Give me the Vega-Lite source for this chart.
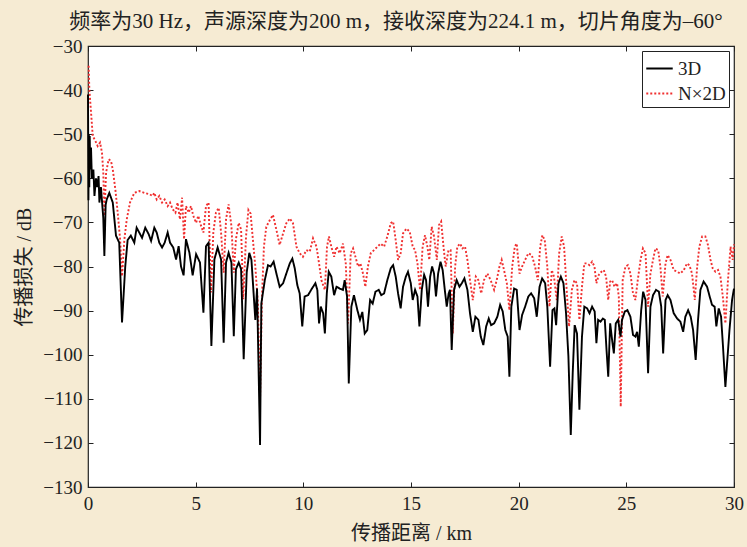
{
"$schema": "https://vega.github.io/schema/vega-lite/v6.json",
"width": 646, "height": 441,
"autosize": "none",
"padding": {"left": 88, "top": 46, "right": 13, "bottom": 60},
"background": "#f6ebd3",
"config": {"view": {"fill": "white", "stroke": "#222", "strokeWidth": 1.2}, "font": "Liberation Serif, Noto Sans CJK SC"},
"title": {"text": "频率为30 Hz，声源深度为200 m，接收深度为224.1 m，切片角度为–60°", "fontSize": 21, "fontWeight": "normal", "color": "#222", "font": "Liberation Serif, Noto Sans CJK SC", "anchor": "middle", "dx": -15, "offset": 5},
"datasets": {
"tl": [
{"s":"N×2D","d":0.03,"L":-34.5},{"s":"N×2D","d":0.062,"L":-39.8},{"s":"N×2D","d":0.14,"L":-45},{"s":"N×2D","d":0.22,"L":-50.4},{"s":"N×2D","d":0.34,"L":-51.5},{"s":"N×2D","d":0.45,"L":-52.7},{"s":"N×2D","d":0.56,"L":-51.9},{"s":"N×2D","d":0.65,"L":-54.2},{"s":"N×2D","d":0.71,"L":-58.7},{"s":"N×2D","d":0.76,"L":-68.5},{"s":"N×2D","d":0.84,"L":-58.7},{"s":"N×2D","d":0.96,"L":-55.7},{"s":"N×2D","d":1.07,"L":-56.1},{"s":"N×2D","d":1.15,"L":-58},{"s":"N×2D","d":1.27,"L":-62.5},{"s":"N×2D","d":1.38,"L":-67.8},{"s":"N×2D","d":1.49,"L":-73.8},{"s":"N×2D","d":1.58,"L":-82.2},{"s":"N×2D","d":1.69,"L":-73.8},{"s":"N×2D","d":1.8,"L":-69.3},{"s":"N×2D","d":1.95,"L":-65.5},{"s":"N×2D","d":2.15,"L":-63.3},{"s":"N×2D","d":2.38,"L":-62.9},{"s":"N×2D","d":2.62,"L":-63.3},{"s":"N×2D","d":2.85,"L":-63.6},{"s":"N×2D","d":3.0,"L":-64},{"s":"N×2D","d":3.08,"L":-63.3},{"s":"N×2D","d":3.19,"L":-64.8},{"s":"N×2D","d":3.31,"L":-64},{"s":"N×2D","d":3.44,"L":-65.5},{"s":"N×2D","d":3.56,"L":-64.8},{"s":"N×2D","d":3.7,"L":-66.3},{"s":"N×2D","d":3.81,"L":-65.5},{"s":"N×2D","d":3.93,"L":-67},{"s":"N×2D","d":4.06,"L":-67.8},{"s":"N×2D","d":4.16,"L":-65.5},{"s":"N×2D","d":4.27,"L":-69.3},{"s":"N×2D","d":4.37,"L":-64.4},{"s":"N×2D","d":4.46,"L":-73.8},{"s":"N×2D","d":4.55,"L":-66.3},{"s":"N×2D","d":4.68,"L":-67.8},{"s":"N×2D","d":4.78,"L":-66.3},{"s":"N×2D","d":4.89,"L":-68.5},{"s":"N×2D","d":5.02,"L":-70.1},{"s":"N×2D","d":5.12,"L":-68.5},{"s":"N×2D","d":5.25,"L":-70.8},{"s":"N×2D","d":5.36,"L":-72.3},{"s":"N×2D","d":5.48,"L":-66.3},{"s":"N×2D","d":5.6,"L":-65.5},{"s":"N×2D","d":5.71,"L":-85.9},{"s":"N×2D","d":5.82,"L":-72.3},{"s":"N×2D","d":5.94,"L":-67.8},{"s":"N×2D","d":6.07,"L":-66.7},{"s":"N×2D","d":6.18,"L":-72.3},{"s":"N×2D","d":6.3,"L":-81.4},{"s":"N×2D","d":6.41,"L":-69.3},{"s":"N×2D","d":6.53,"L":-65.9},{"s":"N×2D","d":6.66,"L":-70.8},{"s":"N×2D","d":6.77,"L":-81.4},{"s":"N×2D","d":6.87,"L":-73.8},{"s":"N×2D","d":7.0,"L":-70.1},{"s":"N×2D","d":7.11,"L":-71.6},{"s":"N×2D","d":7.21,"L":-87.4},{"s":"N×2D","d":7.34,"L":-73.1},{"s":"N×2D","d":7.45,"L":-67.2},{"s":"N×2D","d":7.55,"L":-68},{"s":"N×2D","d":7.66,"L":-74},{"s":"N×2D","d":7.77,"L":-80},{"s":"N×2D","d":7.89,"L":-88.4},{"s":"N×2D","d":7.99,"L":-110.3},{"s":"N×2D","d":8.08,"L":-86.8},{"s":"N×2D","d":8.17,"L":-75.5},{"s":"N×2D","d":8.28,"L":-71},{"s":"N×2D","d":8.44,"L":-69.5},{"s":"N×2D","d":8.59,"L":-68.3},{"s":"N×2D","d":8.75,"L":-71.7},{"s":"N×2D","d":8.9,"L":-75.1},{"s":"N×2D","d":9.06,"L":-72.5},{"s":"N×2D","d":9.21,"L":-70.2},{"s":"N×2D","d":9.37,"L":-69.1},{"s":"N×2D","d":9.52,"L":-70.2},{"s":"N×2D","d":9.68,"L":-75.5},{"s":"N×2D","d":9.83,"L":-77},{"s":"N×2D","d":9.98,"L":-77.8},{"s":"N×2D","d":10.14,"L":-76.3},{"s":"N×2D","d":10.3,"L":-76.6},{"s":"N×2D","d":10.45,"L":-73.6},{"s":"N×2D","d":10.61,"L":-75.5},{"s":"N×2D","d":10.73,"L":-79.3},{"s":"N×2D","d":10.84,"L":-83.1},{"s":"N×2D","d":11.0,"L":-85.3},{"s":"N×2D","d":11.1,"L":-75.5},{"s":"N×2D","d":11.19,"L":-73.2},{"s":"N×2D","d":11.3,"L":-75.5},{"s":"N×2D","d":11.43,"L":-77.8},{"s":"N×2D","d":11.54,"L":-75.5},{"s":"N×2D","d":11.69,"L":-77},{"s":"N×2D","d":11.84,"L":-74.8},{"s":"N×2D","d":11.97,"L":-79.3},{"s":"N×2D","d":12.08,"L":-92.9},{"s":"N×2D","d":12.2,"L":-77},{"s":"N×2D","d":12.31,"L":-75.9},{"s":"N×2D","d":12.42,"L":-77.8},{"s":"N×2D","d":12.54,"L":-80},{"s":"N×2D","d":12.65,"L":-79.3},{"s":"N×2D","d":12.77,"L":-81.6},{"s":"N×2D","d":12.88,"L":-84.6},{"s":"N×2D","d":13.0,"L":-80},{"s":"N×2D","d":13.13,"L":-77},{"s":"N×2D","d":13.28,"L":-76.3},{"s":"N×2D","d":13.44,"L":-75.5},{"s":"N×2D","d":13.59,"L":-74.8},{"s":"N×2D","d":13.75,"L":-75.5},{"s":"N×2D","d":13.9,"L":-73.2},{"s":"N×2D","d":14.06,"L":-70.2},{"s":"N×2D","d":14.17,"L":-69.8},{"s":"N×2D","d":14.29,"L":-74},{"s":"N×2D","d":14.4,"L":-78.5},{"s":"N×2D","d":14.52,"L":-77},{"s":"N×2D","d":14.63,"L":-72.5},{"s":"N×2D","d":14.79,"L":-71.4},{"s":"N×2D","d":14.94,"L":-72.1},{"s":"N×2D","d":15.08,"L":-75.5},{"s":"N×2D","d":15.19,"L":-76.3},{"s":"N×2D","d":15.3,"L":-79.3},{"s":"N×2D","d":15.42,"L":-85.3},{"s":"N×2D","d":15.54,"L":-75.5},{"s":"N×2D","d":15.65,"L":-72.9},{"s":"N×2D","d":15.76,"L":-75.5},{"s":"N×2D","d":15.85,"L":-78.5},{"s":"N×2D","d":15.96,"L":-71},{"s":"N×2D","d":16.07,"L":-73.2},{"s":"N×2D","d":16.2,"L":-78.5},{"s":"N×2D","d":16.3,"L":-70.6},{"s":"N×2D","d":16.4,"L":-69.8},{"s":"N×2D","d":16.51,"L":-75.5},{"s":"N×2D","d":16.61,"L":-80},{"s":"N×2D","d":16.74,"L":-76.3},{"s":"N×2D","d":16.84,"L":-76.3},{"s":"N×2D","d":16.94,"L":-95.2},{"s":"N×2D","d":17.05,"L":-80},{"s":"N×2D","d":17.15,"L":-75.5},{"s":"N×2D","d":17.28,"L":-74.8},{"s":"N×2D","d":17.39,"L":-75.9},{"s":"N×2D","d":17.51,"L":-75.5},{"s":"N×2D","d":17.62,"L":-78.5},{"s":"N×2D","d":17.74,"L":-83.1},{"s":"N×2D","d":17.87,"L":-87.6},{"s":"N×2D","d":18.01,"L":-82.3},{"s":"N×2D","d":18.13,"L":-83.1},{"s":"N×2D","d":18.26,"L":-86.1},{"s":"N×2D","d":18.39,"L":-83.1},{"s":"N×2D","d":18.55,"L":-81.6},{"s":"N×2D","d":18.7,"L":-83.1},{"s":"N×2D","d":18.86,"L":-85.3},{"s":"N×2D","d":18.98,"L":-83.1},{"s":"N×2D","d":19.11,"L":-80},{"s":"N×2D","d":19.21,"L":-78.5},{"s":"N×2D","d":19.32,"L":-80.8},{"s":"N×2D","d":19.45,"L":-83.8},{"s":"N×2D","d":19.57,"L":-89.9},{"s":"N×2D","d":19.7,"L":-80},{"s":"N×2D","d":19.82,"L":-75.5},{"s":"N×2D","d":19.91,"L":-74.8},{"s":"N×2D","d":20.04,"L":-81.6},{"s":"N×2D","d":20.16,"L":-80},{"s":"N×2D","d":20.3,"L":-78.5},{"s":"N×2D","d":20.45,"L":-77},{"s":"N×2D","d":20.61,"L":-77.4},{"s":"N×2D","d":20.76,"L":-80},{"s":"N×2D","d":20.89,"L":-83.1},{"s":"N×2D","d":21.0,"L":-75.5},{"s":"N×2D","d":21.1,"L":-72.9},{"s":"N×2D","d":21.21,"L":-74},{"s":"N×2D","d":21.33,"L":-80},{"s":"N×2D","d":21.43,"L":-89.1},{"s":"N×2D","d":21.54,"L":-80.8},{"s":"N×2D","d":21.64,"L":-82.3},{"s":"N×2D","d":21.77,"L":-87.6},{"s":"N×2D","d":21.88,"L":-77},{"s":"N×2D","d":22.0,"L":-73.2},{"s":"N×2D","d":22.11,"L":-75.5},{"s":"N×2D","d":22.23,"L":-85.3},{"s":"N×2D","d":22.34,"L":-93.6},{"s":"N×2D","d":22.47,"L":-85.3},{"s":"N×2D","d":22.59,"L":-83.1},{"s":"N×2D","d":22.71,"L":-83.8},{"s":"N×2D","d":22.82,"L":-92.1},{"s":"N×2D","d":22.94,"L":-84.6},{"s":"N×2D","d":23.05,"L":-79.3},{"s":"N×2D","d":23.18,"L":-79.3},{"s":"N×2D","d":23.29,"L":-79.7},{"s":"N×2D","d":23.41,"L":-78.9},{"s":"N×2D","d":23.52,"L":-80},{"s":"N×2D","d":23.61,"L":-83.8},{"s":"N×2D","d":23.72,"L":-81.9},{"s":"N×2D","d":23.84,"L":-81.2},{"s":"N×2D","d":23.95,"L":-80.8},{"s":"N×2D","d":24.06,"L":-82.3},{"s":"N×2D","d":24.16,"L":-87.6},{"s":"N×2D","d":24.25,"L":-83.4},{"s":"N×2D","d":24.34,"L":-83.1},{"s":"N×2D","d":24.45,"L":-84.6},{"s":"N×2D","d":24.57,"L":-83.8},{"s":"N×2D","d":24.65,"L":-86.8},{"s":"N×2D","d":24.74,"L":-111.8},{"s":"N×2D","d":24.83,"L":-83.1},{"s":"N×2D","d":24.96,"L":-80},{"s":"N×2D","d":25.07,"L":-79.7},{"s":"N×2D","d":25.19,"L":-81.6},{"s":"N×2D","d":25.31,"L":-86.1},{"s":"N×2D","d":25.42,"L":-87.6},{"s":"N×2D","d":25.53,"L":-83.1},{"s":"N×2D","d":25.66,"L":-78.5},{"s":"N×2D","d":25.77,"L":-75.9},{"s":"N×2D","d":25.89,"L":-77},{"s":"N×2D","d":26.01,"L":-89.1},{"s":"N×2D","d":26.12,"L":-81.6},{"s":"N×2D","d":26.24,"L":-78.5},{"s":"N×2D","d":26.35,"L":-75.9},{"s":"N×2D","d":26.48,"L":-76.3},{"s":"N×2D","d":26.58,"L":-80},{"s":"N×2D","d":26.69,"L":-86.8},{"s":"N×2D","d":26.82,"L":-79.3},{"s":"N×2D","d":26.92,"L":-77.4},{"s":"N×2D","d":27.05,"L":-78.5},{"s":"N×2D","d":27.2,"L":-80.8},{"s":"N×2D","d":27.36,"L":-81.2},{"s":"N×2D","d":27.51,"L":-81.6},{"s":"N×2D","d":27.67,"L":-80.8},{"s":"N×2D","d":27.82,"L":-79.3},{"s":"N×2D","d":27.93,"L":-79.7},{"s":"N×2D","d":28.05,"L":-81.6},{"s":"N×2D","d":28.18,"L":-87.6},{"s":"N×2D","d":28.29,"L":-80},{"s":"N×2D","d":28.39,"L":-75.5},{"s":"N×2D","d":28.52,"L":-73.2},{"s":"N×2D","d":28.67,"L":-73.2},{"s":"N×2D","d":28.79,"L":-75.1},{"s":"N×2D","d":28.91,"L":-78.5},{"s":"N×2D","d":29.01,"L":-80.4},{"s":"N×2D","d":29.14,"L":-81.2},{"s":"N×2D","d":29.26,"L":-80.8},{"s":"N×2D","d":29.37,"L":-82.3},{"s":"N×2D","d":29.48,"L":-86.8},{"s":"N×2D","d":29.6,"L":-92.9},{"s":"N×2D","d":29.71,"L":-83.8},{"s":"N×2D","d":29.84,"L":-75.5},{"s":"N×2D","d":29.94,"L":-78.5},{"s":"N×2D","d":30.0,"L":-75},
{"s":"3D","d":0.0,"L":-41},{"s":"3D","d":0.02,"L":-65},{"s":"3D","d":0.04,"L":-50},{"s":"3D","d":0.06,"L":-62},{"s":"3D","d":0.08,"L":-50.4},{"s":"3D","d":0.1,"L":-58},{"s":"3D","d":0.14,"L":-53},{"s":"3D","d":0.18,"L":-60},{"s":"3D","d":0.25,"L":-58},{"s":"3D","d":0.3,"L":-64},{"s":"3D","d":0.37,"L":-60},{"s":"3D","d":0.43,"L":-62},{"s":"3D","d":0.49,"L":-59.5},{"s":"3D","d":0.53,"L":-65.5},{"s":"3D","d":0.6,"L":-62},{"s":"3D","d":0.71,"L":-69},{"s":"3D","d":0.76,"L":-77.6},{"s":"3D","d":0.82,"L":-66},{"s":"3D","d":0.87,"L":-64.8},{"s":"3D","d":0.99,"L":-63.3},{"s":"3D","d":1.15,"L":-65.5},{"s":"3D","d":1.3,"L":-73},{"s":"3D","d":1.45,"L":-74.6},{"s":"3D","d":1.58,"L":-92.7},{"s":"3D","d":1.73,"L":-80},{"s":"3D","d":1.84,"L":-74},{"s":"3D","d":1.99,"L":-73},{"s":"3D","d":2.15,"L":-74.6},{"s":"3D","d":2.26,"L":-71.2},{"s":"3D","d":2.38,"L":-72.3},{"s":"3D","d":2.51,"L":-73.5},{"s":"3D","d":2.66,"L":-71.2},{"s":"3D","d":2.82,"L":-72.7},{"s":"3D","d":2.93,"L":-74.2},{"s":"3D","d":3.08,"L":-71.2},{"s":"3D","d":3.19,"L":-72.3},{"s":"3D","d":3.31,"L":-74.6},{"s":"3D","d":3.44,"L":-75.7},{"s":"3D","d":3.56,"L":-74.6},{"s":"3D","d":3.7,"L":-72.3},{"s":"3D","d":3.81,"L":-74.6},{"s":"3D","d":3.96,"L":-75.7},{"s":"3D","d":4.09,"L":-78.4},{"s":"3D","d":4.21,"L":-75.4},{"s":"3D","d":4.32,"L":-80},{"s":"3D","d":4.44,"L":-82},{"s":"3D","d":4.55,"L":-73.8},{"s":"3D","d":4.71,"L":-76.9},{"s":"3D","d":4.86,"L":-82},{"s":"3D","d":5.02,"L":-77.2},{"s":"3D","d":5.2,"L":-79.1},{"s":"3D","d":5.36,"L":-90.5},{"s":"3D","d":5.48,"L":-75.4},{"s":"3D","d":5.6,"L":-74.6},{"s":"3D","d":5.73,"L":-98},{"s":"3D","d":5.87,"L":-78.4},{"s":"3D","d":6.02,"L":-75.7},{"s":"3D","d":6.18,"L":-78.4},{"s":"3D","d":6.3,"L":-97.3},{"s":"3D","d":6.41,"L":-79.1},{"s":"3D","d":6.53,"L":-76.9},{"s":"3D","d":6.66,"L":-79.1},{"s":"3D","d":6.77,"L":-95.8},{"s":"3D","d":6.87,"L":-80.6},{"s":"3D","d":7.0,"L":-79.1},{"s":"3D","d":7.11,"L":-80.6},{"s":"3D","d":7.23,"L":-101},{"s":"3D","d":7.37,"L":-81.4},{"s":"3D","d":7.49,"L":-76.9},{"s":"3D","d":7.59,"L":-78.5},{"s":"3D","d":7.77,"L":-92.1},{"s":"3D","d":7.85,"L":-85},{"s":"3D","d":7.99,"L":-120.5},{"s":"3D","d":8.05,"L":-88.4},{"s":"3D","d":8.21,"L":-83.1},{"s":"3D","d":8.36,"L":-79.7},{"s":"3D","d":8.48,"L":-80},{"s":"3D","d":8.62,"L":-78.9},{"s":"3D","d":8.75,"L":-81.6},{"s":"3D","d":8.9,"L":-84.6},{"s":"3D","d":9.06,"L":-83.8},{"s":"3D","d":9.21,"L":-81.6},{"s":"3D","d":9.37,"L":-79.3},{"s":"3D","d":9.49,"L":-78.2},{"s":"3D","d":9.6,"L":-80.4},{"s":"3D","d":9.72,"L":-84.2},{"s":"3D","d":9.83,"L":-86.1},{"s":"3D","d":9.95,"L":-93.6},{"s":"3D","d":10.06,"L":-86.8},{"s":"3D","d":10.22,"L":-86.5},{"s":"3D","d":10.4,"L":-85},{"s":"3D","d":10.56,"L":-83.8},{"s":"3D","d":10.65,"L":-85.3},{"s":"3D","d":10.73,"L":-92.9},{"s":"3D","d":10.81,"L":-89.1},{"s":"3D","d":10.92,"L":-90.6},{"s":"3D","d":11.0,"L":-95.2},{"s":"3D","d":11.09,"L":-86.1},{"s":"3D","d":11.18,"L":-81.2},{"s":"3D","d":11.3,"L":-82.3},{"s":"3D","d":11.43,"L":-86.5},{"s":"3D","d":11.54,"L":-84.6},{"s":"3D","d":11.69,"L":-85},{"s":"3D","d":11.84,"L":-85.3},{"s":"3D","d":11.92,"L":-83.1},{"s":"3D","d":12.03,"L":-86.8},{"s":"3D","d":12.11,"L":-106.5},{"s":"3D","d":12.23,"L":-89.1},{"s":"3D","d":12.35,"L":-86.5},{"s":"3D","d":12.51,"L":-89.9},{"s":"3D","d":12.63,"L":-92.1},{"s":"3D","d":12.74,"L":-90.3},{"s":"3D","d":12.85,"L":-95.2},{"s":"3D","d":12.97,"L":-94.4},{"s":"3D","d":13.1,"L":-87.6},{"s":"3D","d":13.22,"L":-88.4},{"s":"3D","d":13.35,"L":-85.7},{"s":"3D","d":13.5,"L":-85.3},{"s":"3D","d":13.62,"L":-86.5},{"s":"3D","d":13.75,"L":-86.1},{"s":"3D","d":13.9,"L":-83.1},{"s":"3D","d":14.06,"L":-80.4},{"s":"3D","d":14.17,"L":-79.7},{"s":"3D","d":14.29,"L":-82.3},{"s":"3D","d":14.4,"L":-86.1},{"s":"3D","d":14.52,"L":-89.5},{"s":"3D","d":14.63,"L":-84.6},{"s":"3D","d":14.76,"L":-82.3},{"s":"3D","d":14.86,"L":-81.2},{"s":"3D","d":14.99,"L":-83.8},{"s":"3D","d":15.08,"L":-87.6},{"s":"3D","d":15.19,"L":-85.3},{"s":"3D","d":15.3,"L":-86.8},{"s":"3D","d":15.39,"L":-93.6},{"s":"3D","d":15.5,"L":-85.3},{"s":"3D","d":15.61,"L":-81.9},{"s":"3D","d":15.7,"L":-83.1},{"s":"3D","d":15.79,"L":-89.1},{"s":"3D","d":15.89,"L":-82.3},{"s":"3D","d":15.98,"L":-80},{"s":"3D","d":16.07,"L":-81.6},{"s":"3D","d":16.16,"L":-86.8},{"s":"3D","d":16.26,"L":-81.6},{"s":"3D","d":16.37,"L":-78.9},{"s":"3D","d":16.47,"L":-80.8},{"s":"3D","d":16.57,"L":-85.3},{"s":"3D","d":16.66,"L":-89.1},{"s":"3D","d":16.75,"L":-86.1},{"s":"3D","d":16.81,"L":-85.3},{"s":"3D","d":16.89,"L":-98.9},{"s":"3D","d":17.0,"L":-85.3},{"s":"3D","d":17.12,"L":-83.1},{"s":"3D","d":17.25,"L":-84.6},{"s":"3D","d":17.36,"L":-83.8},{"s":"3D","d":17.48,"L":-82.7},{"s":"3D","d":17.62,"L":-85.3},{"s":"3D","d":17.74,"L":-90.6},{"s":"3D","d":17.87,"L":-94.8},{"s":"3D","d":17.99,"L":-91.4},{"s":"3D","d":18.13,"L":-92.1},{"s":"3D","d":18.24,"L":-95.9},{"s":"3D","d":18.36,"L":-97.8},{"s":"3D","d":18.49,"L":-93.6},{"s":"3D","d":18.61,"L":-91.8},{"s":"3D","d":18.72,"L":-93.3},{"s":"3D","d":18.86,"L":-92.9},{"s":"3D","d":19.01,"L":-91.4},{"s":"3D","d":19.14,"L":-88.7},{"s":"3D","d":19.26,"L":-90.2},{"s":"3D","d":19.38,"L":-94.4},{"s":"3D","d":19.49,"L":-95.9},{"s":"3D","d":19.57,"L":-105},{"s":"3D","d":19.66,"L":-89.1},{"s":"3D","d":19.79,"L":-85},{"s":"3D","d":19.91,"L":-85.3},{"s":"3D","d":20.04,"L":-94.4},{"s":"3D","d":20.16,"L":-91},{"s":"3D","d":20.3,"L":-89.1},{"s":"3D","d":20.45,"L":-86.8},{"s":"3D","d":20.58,"L":-86.1},{"s":"3D","d":20.72,"L":-87.2},{"s":"3D","d":20.84,"L":-91.4},{"s":"3D","d":20.97,"L":-84.6},{"s":"3D","d":21.09,"L":-82.7},{"s":"3D","d":21.23,"L":-83.8},{"s":"3D","d":21.33,"L":-89.1},{"s":"3D","d":21.46,"L":-102.7},{"s":"3D","d":21.57,"L":-89.9},{"s":"3D","d":21.66,"L":-89.5},{"s":"3D","d":21.74,"L":-93.3},{"s":"3D","d":21.85,"L":-83.8},{"s":"3D","d":21.96,"L":-82.3},{"s":"3D","d":22.08,"L":-83.8},{"s":"3D","d":22.2,"L":-90.6},{"s":"3D","d":22.31,"L":-100.4},{"s":"3D","d":22.42,"L":-118.2},{"s":"3D","d":22.51,"L":-104.2},{"s":"3D","d":22.6,"L":-93.3},{"s":"3D","d":22.71,"L":-95.2},{"s":"3D","d":22.82,"L":-112.5},{"s":"3D","d":22.94,"L":-95.9},{"s":"3D","d":23.05,"L":-89.1},{"s":"3D","d":23.18,"L":-89.5},{"s":"3D","d":23.29,"L":-90.6},{"s":"3D","d":23.41,"L":-89.1},{"s":"3D","d":23.53,"L":-90.2},{"s":"3D","d":23.61,"L":-97.4},{"s":"3D","d":23.69,"L":-92.1},{"s":"3D","d":23.8,"L":-92.5},{"s":"3D","d":23.91,"L":-91.8},{"s":"3D","d":24.0,"L":-92.1},{"s":"3D","d":24.08,"L":-98.9},{"s":"3D","d":24.16,"L":-105},{"s":"3D","d":24.25,"L":-92.9},{"s":"3D","d":24.34,"L":-96.7},{"s":"3D","d":24.42,"L":-99.7},{"s":"3D","d":24.51,"L":-92.9},{"s":"3D","d":24.62,"L":-92.1},{"s":"3D","d":24.73,"L":-95.9},{"s":"3D","d":24.8,"L":-92.1},{"s":"3D","d":24.93,"L":-90.2},{"s":"3D","d":25.05,"L":-89.9},{"s":"3D","d":25.19,"L":-91.4},{"s":"3D","d":25.31,"L":-95.5},{"s":"3D","d":25.42,"L":-95.9},{"s":"3D","d":25.5,"L":-94.8},{"s":"3D","d":25.58,"L":-98.2},{"s":"3D","d":25.69,"L":-89.9},{"s":"3D","d":25.78,"L":-85.7},{"s":"3D","d":25.89,"L":-87.6},{"s":"3D","d":26.01,"L":-104.2},{"s":"3D","d":26.12,"L":-89.1},{"s":"3D","d":26.24,"L":-86.5},{"s":"3D","d":26.38,"L":-85.3},{"s":"3D","d":26.51,"L":-85.7},{"s":"3D","d":26.62,"L":-89.1},{"s":"3D","d":26.71,"L":-99.7},{"s":"3D","d":26.82,"L":-87.6},{"s":"3D","d":26.92,"L":-86.5},{"s":"3D","d":27.05,"L":-87.6},{"s":"3D","d":27.2,"L":-90.6},{"s":"3D","d":27.36,"L":-91.8},{"s":"3D","d":27.51,"L":-92.5},{"s":"3D","d":27.64,"L":-94.8},{"s":"3D","d":27.74,"L":-91.4},{"s":"3D","d":27.87,"L":-89.9},{"s":"3D","d":27.99,"L":-91.4},{"s":"3D","d":28.1,"L":-94.4},{"s":"3D","d":28.22,"L":-101.2},{"s":"3D","d":28.33,"L":-92.1},{"s":"3D","d":28.44,"L":-85.3},{"s":"3D","d":28.59,"L":-83.4},{"s":"3D","d":28.75,"L":-84.6},{"s":"3D","d":28.87,"L":-86.8},{"s":"3D","d":28.98,"L":-88.7},{"s":"3D","d":29.1,"L":-89.1},{"s":"3D","d":29.18,"L":-93.6},{"s":"3D","d":29.29,"L":-89.5},{"s":"3D","d":29.4,"L":-91.4},{"s":"3D","d":29.49,"L":-98.2},{"s":"3D","d":29.6,"L":-107.3},{"s":"3D","d":29.69,"L":-101.2},{"s":"3D","d":29.79,"L":-94.4},{"s":"3D","d":29.91,"L":-87.6},{"s":"3D","d":30.0,"L":-85}
]},
"data": {"name": "tl"},
"layer": [
{"mark": {"type": "line", "strokeWidth": 1.9},
 "encoding": {
  "x": {"field": "d", "type": "quantitative", "scale": {"domain": [0, 30], "nice": false, "zero": false},
        "axis": {"values": [0,5,10,15,20,25,30], "tickSize": -5, "tickColor": "#222", "labelPadding": 12, "labelFontSize": 19, "labelColor": "#222", "labelFont": "Liberation Serif", "domain": false, "grid": false, "title": "传播距离 / km", "titleFontSize": 20, "titleFontWeight": "normal", "titleColor": "#222", "titlePadding": 10, "labelFlush": false}},
  "y": {"field": "L", "type": "quantitative", "scale": {"domain": [-130, -30], "nice": false, "zero": false},
        "axis": {"values": [-130,-120,-110,-100,-90,-80,-70,-60,-50,-40,-30], "tickSize": -5, "tickColor": "#222", "labelPadding": 11, "labelFontSize": 19, "labelColor": "#222", "labelFont": "Liberation Serif", "domain": false, "grid": false, "title": "传播损失 / dB", "titleFontSize": 20, "titleFontWeight": "normal", "titleColor": "#222", "titlePadding": 8, "labelFlush": false}},
  "color": {"field": "s", "type": "nominal", "scale": {"domain": ["3D", "N×2D"], "range": ["#000000", "#f03030"]},
            "legend": {"title": null, "orient": "top-right", "offset": 5, "fillColor": "white", "strokeColor": "#222", "padding": 3, "labelFontSize": 19, "labelColor": "#222", "labelFont": "Liberation Serif", "symbolType": "stroke", "symbolSize": 700, "symbolStrokeWidth": 1.9, "rowPadding": -6, "labelOffset": 4, "labelLimit": 200}},
  "strokeDash": {"field": "s", "type": "nominal", "scale": {"domain": ["3D", "N×2D"], "range": [[1, 0], [2, 2]]}}
 }},
{"mark": {"type": "line", "strokeOpacity": 0},
 "encoding": {
  "x": {"field": "d", "type": "quantitative", "axis": {"orient": "top", "values": [0,5,10,15,20,25,30], "tickSize": -5, "tickColor": "#222", "labels": false, "domain": false, "grid": false, "title": null}},
  "y": {"field": "L", "type": "quantitative", "axis": {"orient": "right", "values": [-130,-120,-110,-100,-90,-80,-70,-60,-50,-40,-30], "tickSize": -5, "tickColor": "#222", "labels": false, "domain": false, "grid": false, "title": null}},
  "detail": {"field": "s"}
 }}
],
"resolve": {"axis": {"x": "independent", "y": "independent"}}
}
